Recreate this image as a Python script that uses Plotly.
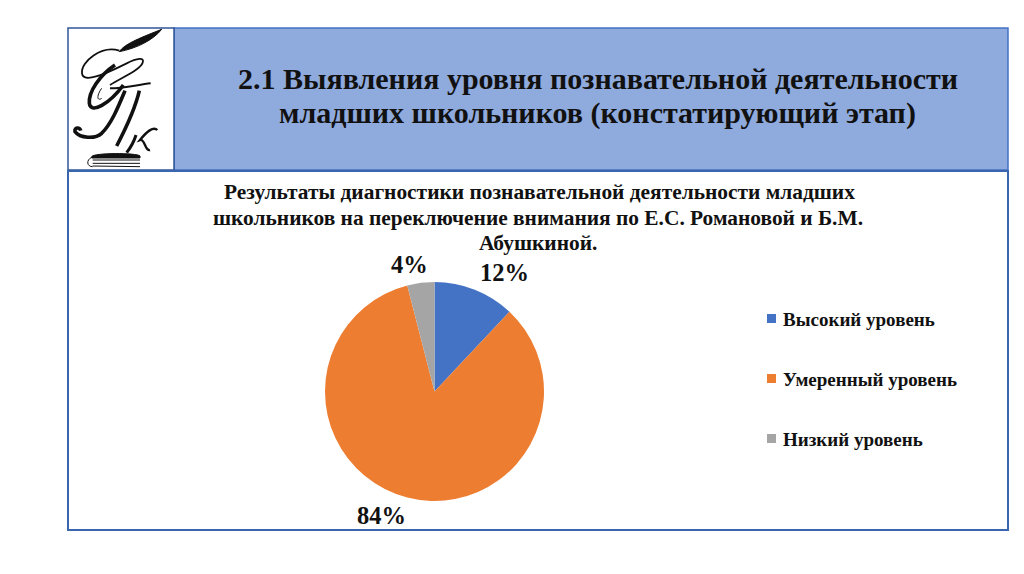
import plotly.graph_objects as go

categories = ["Высокий уровень", "Умеренный уровень", "Низкий уровень"]
values = [12, 84, 4]
colors = ["#4472C4", "#ED7D31", "#A5A5A5"]
header_lines = ["2.1 Выявления уровня познавательной деятельности", "младших школьников (констатирующий этап)"]
title_lines = ["Результаты диагностики познавательной деятельности младших",
               "школьников на переключение внимания по Е.С. Романовой и Б.М.",
               "Абушкиной."]
FONT = "Liberation Serif"
W, H = 1024, 574
def px(x): return x / W
def py(y): return 1 - y / H

fig = go.Figure()
fig.add_trace(go.Pie(labels=categories, values=values, sort=False, direction="clockwise", rotation=0,
    marker=dict(colors=colors), textinfo="none", hoverinfo="label+percent", showlegend=False,
    domain=dict(x=[px(325), px(544)], y=[py(501), py(282)])))

FRAME = "#4472C4"
shapes = [
    dict(type="rect", xref="paper", yref="paper", x0=px(174), x1=px(1008), y0=py(170), y1=py(28),
         fillcolor="#8FAADC", line=dict(color=FRAME, width=1.5)),
    dict(type="rect", xref="paper", yref="paper", x0=px(68), x1=px(174), y0=py(170), y1=py(28),
         fillcolor="#FFFFFF", line=dict(color="#2F5597", width=1.5)),
    dict(type="rect", xref="paper", yref="paper", x0=px(68), x1=px(1008), y0=py(530), y1=py(171),
         fillcolor="rgba(0,0,0,0)", line=dict(color="#3A66B0", width=2)),
]
for y, c in zip([320, 380, 440], colors):
    shapes.append(dict(type="rect", xref="paper", yref="paper", x0=px(767), x1=px(776), y0=py(y+3), y1=py(y-6),
                       fillcolor=c, line=dict(width=0)))

# Calligraphic logo, decorative strokes (coordinates as in a 3x crop from (60,20))
def lx(x): return px(60 + x / 3)
def ly(y): return py(20 + y / 3)
def logo(cmds, width=1.5, fill=None):
    out = []
    for tok in cmds.split():
        if tok[0].isalpha():
            out.append(tok)
        else:
            a, b = tok.split(",")
            out.append(f"{lx(float(a)):.5f},{ly(float(b)):.5f}")
    shapes.append(dict(type="path", xref="paper", yref="paper", path=" ".join(out),
                       line=dict(color="#111111", width=width),
                       fillcolor=fill or "rgba(0,0,0,0)"))
logo("M 305,28 C 280,60 230,85 178,95 C 195,70 250,50 305,28 Z", 1, "#111111")
logo("M 178,92 C 125,75 62,125 66,160 C 70,190 130,165 200,130 C 230,115 255,110 248,128 C 240,150 190,170 150,195", 1.8)
logo("M 165,135 C 120,165 85,215 88,250 C 92,285 150,250 190,195", 3.6)
logo("M 125,205 C 110,225 110,245 125,235", 1)
logo("M 150,205 C 190,205 230,195 272,190", 2)
logo("M 195,212 C 175,260 155,310 125,340 C 105,358 60,355 45,335 C 42,322 60,320 62,332", 3.6)
logo("M 238,212 C 225,270 195,330 170,378", 3.6)
logo("M 228,345 C 222,365 210,385 200,398", 3)
logo("M 292,330 C 280,318 260,335 240,360 C 255,355 255,395 270,390", 2.4)
logo("M 95,410 C 100,398 230,398 240,408 L 240,414 L 95,414 Z", 1, "#111111")
logo("M 98,420 L 240,420 M 98,430 L 240,430 M 98,438 L 240,440 M 95,412 C 78,420 80,440 98,440", 1)

ann = []
def t(x, y, s, size, anchor="center", bold=True):
    ann.append(dict(xref="paper", yref="paper", x=px(x), y=py(y), text=f"<b>{s}</b>" if bold else s, showarrow=False,
                    xanchor=anchor, yanchor="middle", font=dict(family=FONT, size=size, color="#111111")))
for y, s in zip([78, 113], header_lines):
    t(597.5, y, s, 30)
for y, xc, s in zip([192, 218, 243], [539.5, 538, 538], title_lines):
    t(xc, y, s, 21.4)
t(409, 264, f"{values[2]}%", 24.5)
t(504, 272, f"{values[0]}%", 24.5)
t(381, 515, f"{values[1]}%", 24.5)
for y, s in zip([319, 379, 439], categories):
    t(781, y, s, 19, anchor="left")

fig.update_layout(width=W, height=H, margin=dict(l=0, r=0, t=0, b=0), autosize=False,
                  paper_bgcolor="white", plot_bgcolor="white", shapes=shapes, annotations=ann)
fig.write_html("out.html", config={"displayModeBar": False}, post_script="document.body.style.margin='0';")
